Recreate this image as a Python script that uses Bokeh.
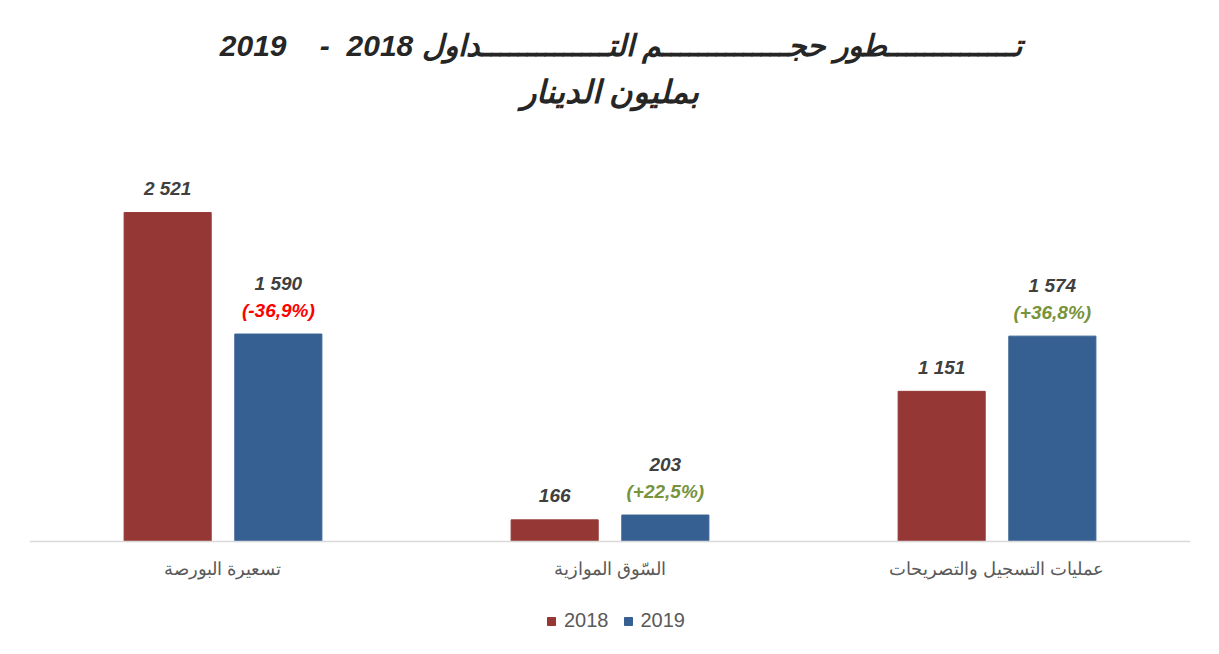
from bokeh.plotting import figure
from bokeh.models import ColumnDataSource, FactorRange, Range1d, Label, Legend, LegendItem, LabelSet, Span
from bokeh.core.properties import value
from bokeh.transform import dodge
from bokeh.embed import file_html
from bokeh.resources import INLINE

categories = ["تسعيرة البورصة", "السّوق الموازية", "عمليات التسجيل والتصريحات"]
values_2018 = [2521, 166, 1151]
values_2019 = [1590, 203, 1574]
labels_2018 = ["2 521", "166", "1 151"]
labels_2019 = ["1 590", "203", "1 574"]
pct_2019 = ["(-36,9%)", "(+22,5%)", "(+36,8%)"]
pct_colors = ["#FF0000", "#77933C", "#77933C"]
series = ["2018", "2019"]
colors = ["#953735", "#376092"]
NB = "\u00a0"
title_line1 = ("تــــــــــــــطور حجــــــــــــــم التــــــــــــــداول 2018"
               + NB * 2 + "-" + NB * 4 + "2019")
title_line2 = "بمليون الدينار"

src = ColumnDataSource(dict(cat=categories, v18=values_2018, v19=values_2019,
                            l18=[s.replace(" ", NB) for s in labels_2018],
                            l19=[s.replace(" ", NB) for s in labels_2019],
                            pct=pct_2019, pc=pct_colors))

p = figure(frame_width=1161, frame_height=650, x_range=FactorRange(*categories, range_padding=0),
           y_range=Range1d(-835, 4146), output_backend="svg", toolbar_location=None,
           min_border_left=29, min_border_right=21, min_border_top=0, min_border_bottom=0)
p.outline_line_color = None
p.xgrid.grid_line_color = None
p.ygrid.grid_line_color = None
p.xaxis.visible = False
p.yaxis.visible = False

p.add_layout(Span(location=0, dimension="width", line_color="#d9d9d9", line_width=1.5))

r18 = p.vbar(x=dodge("cat", -0.143, range=p.x_range), top="v18", width=0.225, source=src,
             color=colors[0])
r19 = p.vbar(x=dodge("cat", 0.143, range=p.x_range), top="v19", width=0.225, source=src,
             color=colors[1])

lbl_font = value("Liberation Sans")
common = dict(text_align="center", text_baseline="middle", text_font=lbl_font,
              text_font_size=value("19px"), text_font_style=value("bold italic"))
p.text(x=dodge("cat", -0.143, range=p.x_range), y="v18", text="l18", source=src,
       y_offset=-24, text_color="#404040", **common)
p.text(x=dodge("cat", 0.143, range=p.x_range), y="v19", text="l19", source=src,
       y_offset=-51, text_color="#404040", **common)
p.text(x=dodge("cat", 0.143, range=p.x_range), y="v19", text="pct", source=src,
       y_offset=-24, text_color="pc", **common)

# category labels below the baseline
p.add_layout(LabelSet(x="cat", y=0, text="cat", source=src, y_offset=-27,
                      text_align="center", text_baseline="middle", text_font=lbl_font,
                      text_font_size=value("18px"), text_color="#595959"))

p.add_layout(Label(x=1.5, y=3801, x_offset=11, text=title_line1, text_align="center",
                   text_baseline="middle", text_font="Liberation Sans", text_font_size="30px",
                   text_font_style="bold italic", text_color="#262626"))
p.add_layout(Label(x=1.5, y=3441, text=title_line2, text_align="center", text_baseline="middle",
                   text_font="Liberation Sans", text_font_size="32px", text_font_style="bold italic",
                   text_color="#262626"))

legend = Legend(items=[LegendItem(label=series[0], renderers=[r18]),
                       LegendItem(label=series[1], renderers=[r19])],
                orientation="horizontal", location=(517, 18), border_line_color=None,
                background_fill_alpha=0,
                label_text_font="Liberation Sans", label_text_font_size="20px",
                label_text_color="#595959", glyph_width=10, glyph_height=10,
                spacing=14, margin=0, padding=4, label_standoff=8)
p.add_layout(legend, "center")

open("out.html", "w").write(file_html(p, INLINE))
